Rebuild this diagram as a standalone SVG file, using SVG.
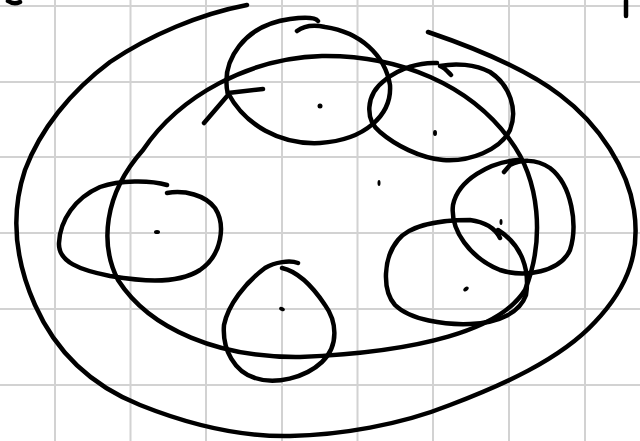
<svg xmlns="http://www.w3.org/2000/svg" width="640" height="441" viewBox="0 0 640 441">
<style>
.g{stroke:#d2d2d2;stroke-width:2;fill:none}
.s{stroke:#000;stroke-width:4.5;fill:none;stroke-linecap:round;stroke-linejoin:round}
.d{fill:#000}
</style>
<rect width="640" height="441" fill="#fff"/>
<g id="grid">
<path class="g" d="M55,0V441M130.5,0V441M206,0V441M282,0V441M357.5,0V441M433,0V441M509,0V441M585,0V441M0,6H640M0,82H640M0,157H640M0,233H640M0,309H640M0,385H640"/>
</g>
<g id="marks">
<path class="s" d="M8,1 Q14,5 20,2"/>
<path class="s" d="M626,1 L626,16"/>
</g>
<g id="outer">
<path class="s" d="M247,5 C200,14 150,35 110,62 C70,92 40,130 25,170 C10,215 15,260 35,305 C55,350 90,385 140,405 C190,425 240,437 290,436 C340,435 400,425 450,405 C500,386 560,360 595,322 C630,285 640,250 634,210 C628,170 600,125 560,95 C525,68 475,48 428,32"/>
</g>
<g id="inner">
<path class="s" d="M143,150 C180,95 250,58 322,56 C400,55 470,85 510,140 C540,180 545,240 525,290 C500,330 420,352 300,357 C220,358 150,330 118,280 C100,245 103,195 143,150 Z"/>
</g>
<g id="n1">
<path class="s" d="M204,123 L228,95 C220,60 245,25 290,19 C305,17 315,17 318,21"/>
<path class="s" d="M297,31 C305,25 315,25 325,27 C360,32 385,55 390,85 C392,115 365,140 320,143 C280,145 245,125 228,93 L263,89"/>
<ellipse class="d" cx="320" cy="106" rx="2.5" ry="2.5"/>
</g>
<g id="n2">
<path class="s" d="M437,63 C420,62 400,68 385,80 C365,95 365,120 380,132 C395,145 420,158 443,160 C470,162 500,150 510,130 C518,110 510,85 490,72 C475,64 455,63 440,66 C445,68 448,72 451,75"/>
<ellipse class="d" cx="435" cy="133" rx="2" ry="3"/>
</g>
<g id="n3">
<path class="s" d="M518,160 C490,162 458,180 453,205 C450,230 470,258 500,270 C525,278 560,272 570,250 C578,225 572,185 550,168 C535,158 520,160 510,165 L504,172"/>
<ellipse class="d" cx="501" cy="222" rx="1.5" ry="3"/>
</g>
<g id="n4">
<path class="s" d="M500,238 C495,228 485,222 470,220 C440,220 410,225 398,240 C383,258 382,290 395,305 C410,320 445,325 470,324 C500,323 520,312 526,295 C530,270 522,245 498,230"/>
<ellipse class="d" cx="466" cy="289" rx="3" ry="2" transform="rotate(-40 466 289)"/>
</g>
<g id="n5">
<path class="s" d="M167,185 C150,180 120,180 100,187 C75,198 60,220 59,243 C58,262 80,270 110,276 C135,280 175,286 200,270 C222,255 226,225 215,208 C205,195 185,190 167,193"/>
<ellipse class="d" cx="157" cy="232" rx="3" ry="2"/>
</g>
<g id="n6">
<path class="s" d="M298,263 C290,260 275,262 265,268 C245,283 228,305 224,325 C222,350 235,372 255,378 C275,385 305,378 322,362 C340,345 336,320 325,305 C315,290 300,272 282,268"/>
<ellipse class="d" cx="282" cy="309" rx="3" ry="2" transform="rotate(25 282 309)"/>
</g>
<g id="n7">
<ellipse class="d" cx="379" cy="183" rx="1.5" ry="3"/>
</g>
<g id="connectors"></g>
</svg>
